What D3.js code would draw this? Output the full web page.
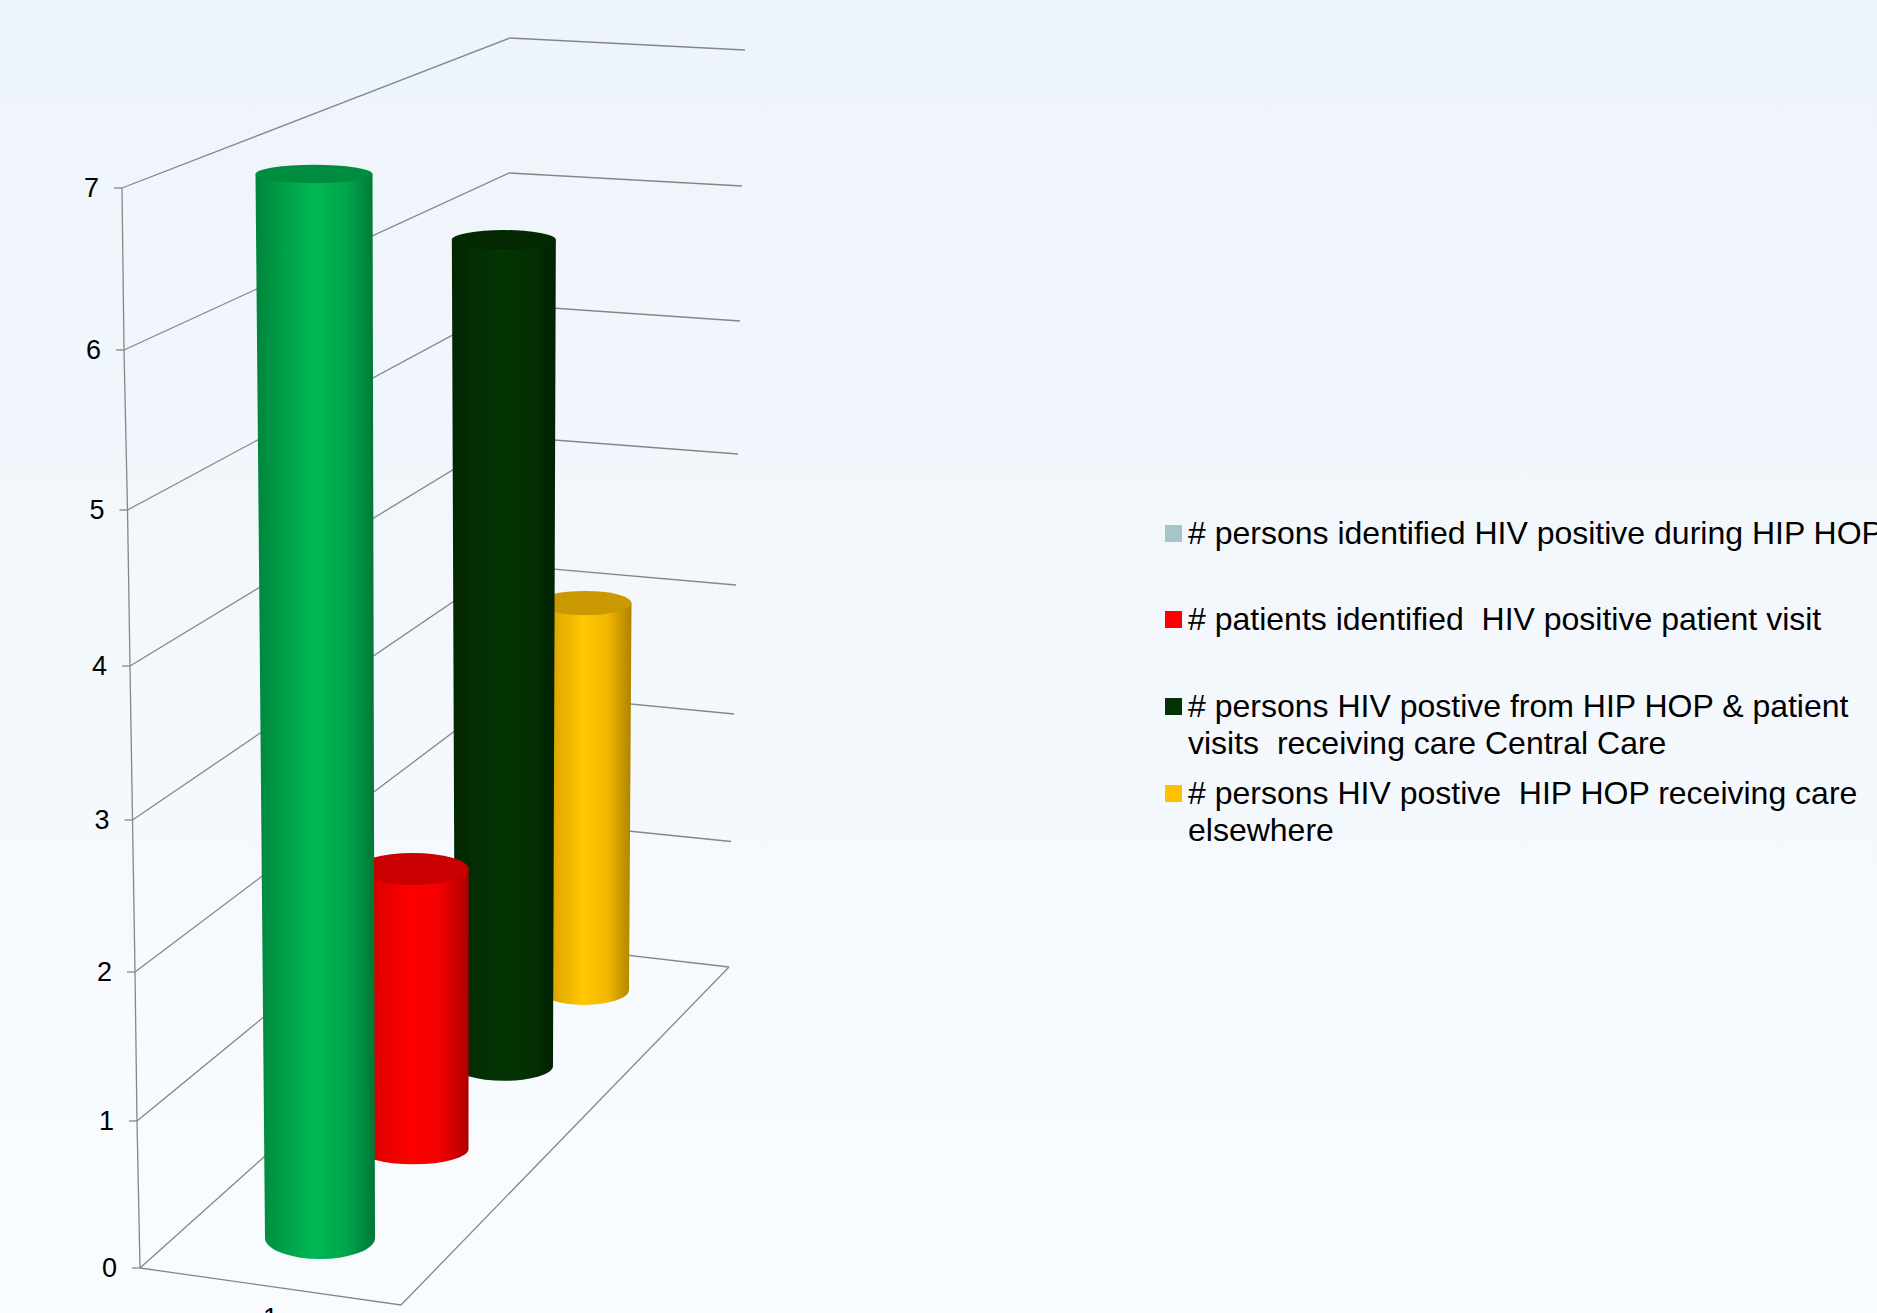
<!DOCTYPE html>
<html>
<head>
<meta charset="utf-8">
<script src="https://cdnjs.cloudflare.com/ajax/libs/d3/7.8.5/d3.min.js"></script>
<style>
html, body { margin: 0; padding: 0; overflow: hidden; }
svg { display: block; font-family: "Liberation Sans", Arial, sans-serif; }
</style>
</head>
<body>
<svg width="1877" height="1313"></svg>
<script>
const categories = ["1"];
const yTicks = [0, 1, 2, 3, 4, 5, 6, 7];
const seriesValues = [7, 2, 6, 3];
const barColors = ["#00B050", "#FF0000", "#033303", "#FFC000"];
const legendColors = ["#A6C5C9", "#FF0000", "#033303", "#FFC000"];
const legendLines = [
  ["# persons identified HIV positive during HIP HOP"],
  ["# patients identified  HIV positive patient visit"],
  ["# persons HIV postive from HIP HOP & patient", "visits  receiving care Central Care"],
  ["# persons HIV postive  HIP HOP receiving care", "elsewhere"]
];

const svg = d3.select("svg");
const defs = svg.append("defs");

const bg = defs.append("linearGradient").attr("id", "bg")
  .attr("x1", 0).attr("y1", 0).attr("x2", 0).attr("y2", 1);
bg.append("stop").attr("offset", 0).attr("stop-color", "#EEF4FB");
bg.append("stop").attr("offset", 1).attr("stop-color", "#F9FCFF");
svg.append("rect").attr("width", 1877).attr("height", 1313).attr("fill", "url(#bg)");

// the 3d box: one scale per corner of the walls, calibrated on the ticks
const leftX = d3.scaleLinear().domain(yTicks).range([140, 137, 135, 132.5, 130, 127.5, 124, 122]);
const leftY = d3.scaleLinear().domain(yTicks).range([1268, 1121, 972, 820, 666, 510, 350, 188]);
const backX = d3.scaleLinear().domain([0, 7]).range([505, 510]);
const backY = d3.scaleLinear().domain(yTicks).range([941, 818.5, 692, 565, 436.5, 305, 173, 38]);
const rightX = d3.scaleLinear().domain(yTicks).range([729, 731, 734, 736, 738, 740, 742, 745]);
const rightY = d3.scaleLinear().domain(yTicks).range([967, 841.5, 714, 585, 454, 321, 186, 50]);
const xCat = d3.scaleBand().domain(categories).range([140, 401]);
const floorFront = [401, 1305];

const lineColor = "#868686";
const grid = svg.append("g").attr("fill", "none").attr("stroke", lineColor).attr("stroke-width", 1.3);

grid.selectAll("polyline").data(yTicks).enter().append("polyline")
  .attr("points", (d) => [
    [leftX(d), leftY(d)], [backX(d), backY(d)], [rightX(d), rightY(d)]
  ].join(" "));

grid.append("path")
  .attr("d", d3.line()([[leftX(0), leftY(0)], floorFront, [rightX(0), rightY(0)]]));

// value axis leans with the front edge of the wall
grid.append("path")
  .attr("d", d3.line().x((d) => leftX(d)).y((d) => leftY(d))(yTicks));
grid.selectAll(".tick").data(yTicks).enter().append("line")
  .attr("class", "tick")
  .attr("x1", (d) => leftX(d) - 8).attr("x2", (d) => leftX(d))
  .attr("y1", (d) => leftY(d)).attr("y2", (d) => leftY(d));

svg.selectAll(".ylabel").data(yTicks).enter().append("text")
  .attr("class", "ylabel")
  .attr("x", (d) => leftX(d) - 23)
  .attr("y", (d) => leftY(d) + 9)
  .attr("text-anchor", "end")
  .attr("font-size", 27)
  .attr("fill", "#000")
  .text((d) => d);

svg.selectAll(".xlabel").data(categories).enter().append("text")
  .attr("class", "xlabel")
  .attr("x", (d) => xCat(d) + xCat.bandwidth() / 2)
  .attr("y", 1327)
  .attr("text-anchor", "middle")
  .attr("font-size", 27)
  .attr("fill", "#000")
  .text((d) => d);

// cylinders, depth 0 is the front one
const depth = [0, 1, 2, 3];
const baseX = d3.scaleLinear().domain(depth).range([320, 413.5, 504, 584]);
const baseY = d3.scaleLinear().domain(depth).range([1238, 1149, 1066, 990]);
const unit = d3.scaleLinear().domain(depth).range([152, 140, 137.7, 129]);
const baseRx = d3.scaleLinear().domain(depth).range([55, 55, 49, 45]);
const baseRy = d3.scaleLinear().domain(depth).range([21, 15.3, 14.8, 15]);
const topRy = d3.scaleLinear().domain([174, 600, 869]).range([9.3, 12, 16]);

const bars = seriesValues.map((v, i) => {
  const bottom = baseY(i);
  const top = bottom - v * unit(i);
  const rx0 = baseRx(i);
  const rx1 = rx0 + v * 0.5;
  const cx0 = baseX(i);
  const cx1 = cx0 + (cx0 - 510) * 0.0045 * v;
  return { i, color: barColors[i], bottom, top, rx0, rx1, cx0, cx1 };
}).reverse();

bars.forEach((b) => {
  const c = d3.color(b.color);
  const g = defs.append("linearGradient").attr("id", "cyl" + b.i);
  g.append("stop").attr("offset", 0).attr("stop-color", c.darker(0.8));
  g.append("stop").attr("offset", 0.22).attr("stop-color", c.darker(0.3));
  g.append("stop").attr("offset", 0.48).attr("stop-color", c.brighter(0.12));
  g.append("stop").attr("offset", 0.75).attr("stop-color", c.darker(0.15));
  g.append("stop").attr("offset", 1).attr("stop-color", c.darker(1.1));
});

const barG = svg.selectAll(".bar").data(bars).enter().append("g").attr("class", "bar");

barG.append("path")
  .attr("fill", (b) => "url(#cyl" + b.i + ")")
  .attr("d", (b) => {
    const ry = baseRy(b.i);
    return "M" + (b.cx1 - b.rx1) + "," + b.top +
      "L" + (b.cx0 - b.rx0) + "," + b.bottom +
      "A" + b.rx0 + "," + ry + " 0 0 0 " + (b.cx0 + b.rx0) + "," + b.bottom +
      "L" + (b.cx1 + b.rx1) + "," + b.top + "Z";
  });

barG.append("ellipse")
  .attr("cx", (b) => b.cx1)
  .attr("cy", (b) => b.top)
  .attr("rx", (b) => b.rx1)
  .attr("ry", (b) => topRy(b.top))
  .attr("fill", (b) => d3.color(b.color).darker(0.65));

// legend
const legendRowY = [533, 619, 706, 793];
const legend = svg.selectAll(".legend").data(legendLines).enter().append("g").attr("class", "legend");

legend.append("rect")
  .attr("x", 1165)
  .attr("y", (d, i) => legendRowY[i] - 8)
  .attr("width", 17)
  .attr("height", 17)
  .attr("fill", (d, i) => legendColors[i]);

legend.each(function(lines, i) {
  d3.select(this).selectAll("text").data(lines).enter().append("text")
    .attr("x", 1188)
    .attr("y", (d, j) => legendRowY[i] + 11 + j * 37)
    .attr("font-size", 32)
    .attr("fill", "#000")
    .attr("xml:space", "preserve")
    .style("white-space", "pre")
    .text((d) => d);
});
</script>
</body>
</html>
